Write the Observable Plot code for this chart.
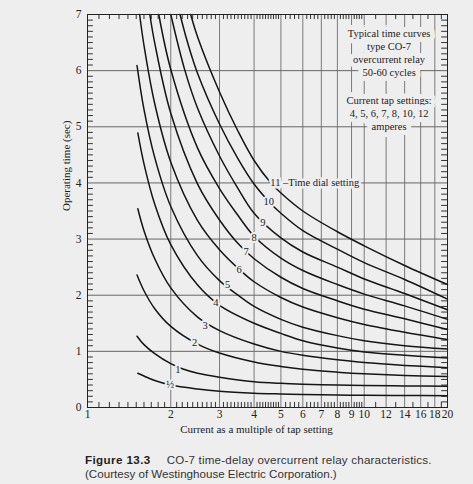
<!DOCTYPE html>
<html><head><meta charset="utf-8">
<script src="https://cdn.jsdelivr.net/npm/d3@7"></script>
<script src="https://cdn.jsdelivr.net/npm/@observablehq/plot@0.6"></script>
<style>
body{margin:0;background:#eeeeee;}
#cap{margin:13px 0 0 85px;font-family:"Liberation Sans",Arial,sans-serif;font-size:11.6px;line-height:14px;color:#333;}
#cap b{font-weight:900;color:#222;letter-spacing:0.4px;margin-right:16px}
#cap .l1{letter-spacing:0.2px}
</style></head><body>
<div id="chart"></div>
<div id="cap"><b>Figure 13.3</b><span class="l1">CO-7 time-delay overcurrent relay characteristics.</span><br>(Courtesy of Westinghouse Electric Corporation.)</div>
<script>
// ---- data (current multiple m, operating time t in sec) per time dial setting ----
const dialHalf = [[1.52,0.61],[1.6,0.56],[1.75,0.48],[2,0.40],[2.5,0.33],[3,0.29],[4,0.255],[5,0.24],[6,0.23],[8,0.222],[10,0.218],[14,0.213],[20,0.21]];
const dial1 = [[1.51,1.27],[1.6,1.12],[1.75,0.96],[2,0.78],[2.2,0.69],[2.5,0.61],[3,0.54],[4,0.46],[5,0.43],[6,0.415],[8,0.40],[10,0.393],[14,0.385],[20,0.38]];
const dial2 = [[1.51,2.36],[1.6,2.08],[1.75,1.76],[2,1.445],[2.5,1.13],[3,0.97],[4,0.81],[5,0.73],[6,0.68],[8,0.63],[10,0.60],[14,0.57],[20,0.55]];
const dial3 = [[1.52,3.54],[1.6,3.15],[1.75,2.65],[2,2.13],[2.5,1.61],[3,1.37],[4,1.13],[5,1.00],[6,0.93],[8,0.85],[10,0.80],[14,0.75],[20,0.71]];
const dial4 = [[1.52,4.89],[1.6,4.34],[1.75,3.62],[2,2.90],[2.5,2.18],[3,1.82],[4,1.50],[5,1.32],[6,1.19],[8,1.06],[10,0.99],[14,0.93],[20,0.88]];
const dial5 = [[1.51,6.09],[1.6,5.31],[1.75,4.45],[2,3.58],[2.5,2.70],[3,2.26],[3.5,2.00],[4,1.80],[5,1.57],[6,1.43],[8,1.28],[10,1.19],[14,1.10],[20,1.04]];
const dial6 = [[1.543,7],[1.6,6.45],[1.75,5.41],[2,4.37],[2.5,3.33],[3,2.81],[3.5,2.48],[4,2.24],[5,1.96],[6,1.79],[8,1.60],[10,1.48],[14,1.34],[20,1.21]];
const dial7 = [[1.68,7],[1.75,6.49],[2,5.24],[2.5,3.98],[3,3.34],[3.5,2.92],[4,2.65],[5,2.32],[6,2.12],[8,1.90],[10,1.75],[14,1.58],[20,1.39]];
const dial8 = [[1.81,7],[2,6.02],[2.5,4.62],[3,3.90],[3.5,3.42],[4,3.05],[5,2.66],[6,2.44],[8,2.19],[10,2.02],[14,1.81],[20,1.57]];
const dial9 = [[2.0,7],[2.25,6.0],[2.5,5.33],[3,4.48],[3.5,3.90],[4,3.46],[5,3.02],[6,2.77],[8,2.50],[10,2.29],[14,2.03],[20,1.74]];
const dial10 = [[2.16,7],[2.3,6.5],[2.5,5.95],[3,5.05],[3.5,4.43],[4,3.98],[4.5,3.68],[5,3.46],[6,3.15],[8,2.82],[10,2.58],[14,2.28],[20,1.93]];
const dial11 = [[2.36,7],[2.5,6.6],[3,5.62],[3.5,4.92],[4,4.40],[4.6,4.0],[5,3.82],[6,3.50],[8,3.13],[10,2.88],[14,2.53],[20,2.19]];

const dialNames = ["½","1","2","3","4","5","6","7","8","9","10","11"];
const dialSeries = [dialHalf,dial1,dial2,dial3,dial4,dial5,dial6,dial7,dial8,dial9,dial10,dial11];

// curve labels
const labelText = ["10","9","8","7","6","5","4","3","2","1","½"];
const labelM = [4.52,4.30,4.00,3.74,3.53,3.21,2.91,2.66,2.44,2.12,1.99];
const labelT = [3.67,3.30,3.03,2.77,2.46,2.18,1.86,1.46,1.15,0.67,0.40];

// axes
const xGrid = [2,3,4,5,6,7,8,9,10,12,14,16,18];
const yGrid = [1,2,3,4,5,6];
const xTickLabels = [1,2,3,4,5,6,7,8,9,10,12,14,16,18,20];
const yTickLabels = [0,1,2,3,4,5,6,7];

// notes
const noteLines = ["Typical time curves","type CO-7","overcurrent relay","50-60 cycles","Current tap settings:","4, 5, 6, 7, 8, 10, 12","amperes"];
const noteT = [6.66,6.43,6.20,5.97,5.47,5.24,5.01];
const noteM = 12.3;
const dialNote = "11 –Time dial setting";
const dialNoteM = 4.58, dialNoteT = 4.0;

// ---- build ----
const rows = dialSeries.flatMap((pts,i)=>pts.map(([m,t])=>({dial:dialNames[i], m, t})));
const notInt = v => Math.abs(v-Math.round(v))>0.01;
const xMinor = [...d3.range(1.1,5,0.1).filter(notInt), ...d3.range(5.2,10,0.2).filter(notInt), 11,13,15,17,19];
const yMinor = d3.range(0.1,7,0.1).filter(notInt);
const bg = "#eeeeee";
const serif = "Liberation Serif, Times New Roman, serif";
const tY = 0.09, tX = 1.05;

const chart = Plot.plot({
  width: 473, height: 440,
  marginLeft: 87, marginRight: 26, marginTop: 14, marginBottom: 33,
  style: {background: "transparent", fontFamily: serif, fontSize: "11px", color: "#222"},
  x: {type: "log", domain: [1,20], axis: null},
  y: {domain: [0,7], axis: null},
  marks: [
    Plot.ruleX(xGrid, {stroke: "#7a7a7a", strokeWidth: 1}),
    Plot.ruleY(yGrid, {stroke: "#666", strokeWidth: 1}),
    Plot.ruleX(xMinor, {y1: 0, y2: tY, stroke: "#333"}),
    Plot.ruleX(xMinor, {y1: 7, y2: 7 - tY, stroke: "#333"}),
    Plot.ruleY(yMinor, {x1: 1, x2: tX, stroke: "#333"}),
    Plot.ruleY(yMinor, {x1: 20, x2: 20 / tX, stroke: "#333"}),
    Plot.line(rows, {x: "m", y: "t", z: "dial", curve: "catmull-rom", stroke: "#151515", strokeWidth: 1.5}),
    Plot.text(labelText, {x: (d,i)=>labelM[i], y: (d,i)=>labelT[i], text: d=>d, fontSize: 10.5, fill: "#222", stroke: bg, strokeWidth: 4, fontFamily: serif}),
    Plot.text([dialNote], {x: ()=>dialNoteM, y: ()=>dialNoteT, text: d=>d, textAnchor: "start", fontSize: 10.5, fill: "#222", stroke: bg, strokeWidth: 5, fontFamily: serif}),
    Plot.text(noteLines, {x: ()=>noteM, y: (d,i)=>noteT[i], text: d=>d, fontSize: 10.5, fill: "#222", stroke: bg, strokeWidth: 10, fontFamily: serif}),
    Plot.frame({stroke: "#222", strokeWidth: 1}),
    Plot.text(xTickLabels, {x: d=>d, frameAnchor: "bottom", dy: 10, text: d=>String(d), fontSize: 11.5, fill: "#222", fontFamily: serif}),
    Plot.text(yTickLabels, {y: d=>d, frameAnchor: "left", dx: -6, textAnchor: "end", text: d=>String(d), fontSize: 11.5, fill: "#222", fontFamily: serif}),
    Plot.text(["Operating time (sec)"], {frameAnchor: "left", dx: -21, rotate: -90, text: d=>d, fontSize: 11, fill: "#222", fontFamily: serif}),
    Plot.text(["Current as a multiple of tap setting"], {frameAnchor: "bottom", dy: 25, dx: -11, text: d=>d, fontSize: 11, fill: "#222", fontFamily: serif})
  ]
});
document.getElementById("chart").append(chart);
</script>
</body></html>
